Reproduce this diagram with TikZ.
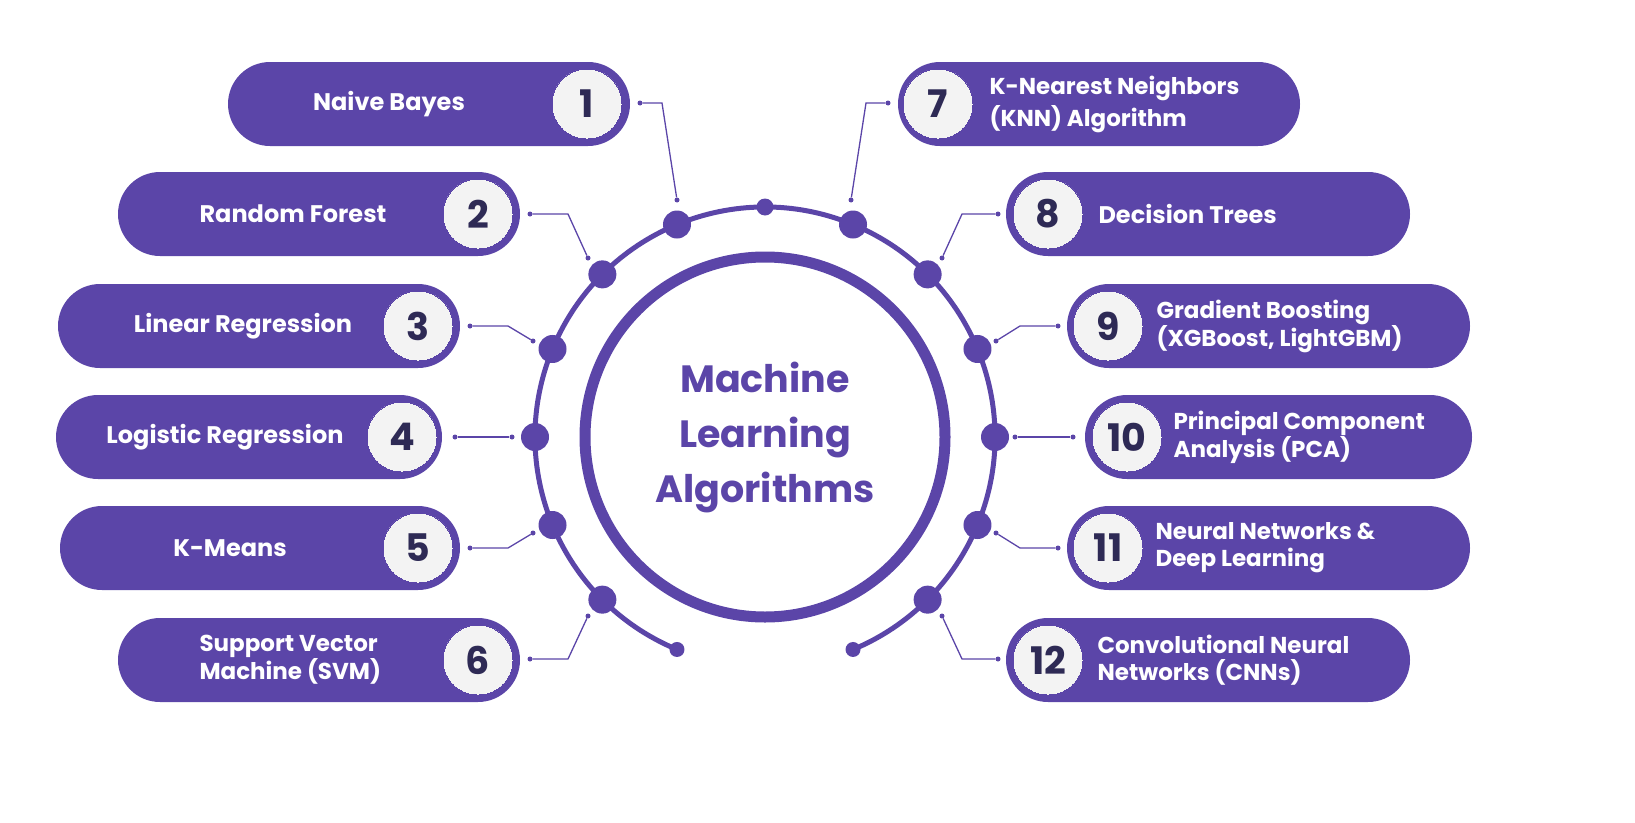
\documentclass[tikz,border=0pt]{standalone}
\usepackage{fontspec}
\setmainfont{Poppins}
\usetikzlibrary{calc}
\definecolor{pur}{HTML}{5B45A8}
\definecolor{cfill}{HTML}{F3F3F3}
\definecolor{num}{HTML}{2E2A55}
\begin{document}
\begin{tikzpicture}[x=1pt,y=-1pt,
  pill/.style={fill=pur,rounded corners=42pt,minimum height=84pt,inner sep=0pt},
  numc/.style={circle,fill=cfill,draw=pur,line width=0pt,minimum size=70pt,inner sep=0pt,font=\fontsize{38}{40}\selectfont\bfseries,text=num},
  lab/.style={text=white,font=\fontsize{24}{26}\selectfont\bfseries,align=left},
  bigdot/.style={circle,fill=pur,minimum size=28pt,inner sep=0pt},
  smalldot/.style={circle,fill=pur,minimum size=5pt,inner sep=0pt},
  conn/.style={pur,line width=1.3pt}]
\coordinate (C) at (765,437);
% central ring
\node[circle,draw=pur,line width=11pt,minimum size=360pt,inner sep=0pt] (ring) at (C) {};
\node[text=pur,font=\fontsize{38}{55}\selectfont\bfseries,align=center] (title) at (C) {Machine\\Learning\\Algorithms};
\draw[pur,line width=5pt] ($(C)+(-247.5:230)$) arc[start angle=-247.5,end angle=67.5,radius=230];
\node[smalldot,minimum size=15pt] (ea) at ($(C)+(-247.5:230)$) {};
\node[smalldot,minimum size=15pt] (eb) at ($(C)+(67.5:230)$) {};
\node[smalldot,minimum size=17pt] (top) at ($(C)+(-90:230)$) {};
% dots on arc
\foreach \i/\a in {1/-112.5,2/-135,3/-157.5,4/-180,5/-202.5,6/-225,7/-67.5,8/-45,9/-22.5,10/0,11/22.5,12/45}
  \node[bigdot] (d\i) at ($(C)+(\a:230)$) {};
% left pills
\foreach \i/\xa/\xb/\y/\cx in {1/228/630/104/587,2/118/520/214/478,3/58/460/326/418,4/56/442/437/402,5/60/460/548/418,6/118/520/660/478}{
  \node[pill,minimum width={\xb-\xa}] (p\i) at ({(\xa+\xb)/2},\y) {};
  \node[numc] (n\i) at (\cx,\y) {\i};
}
% right pills
\foreach \i/\xa/\xb/\y/\cx in {7/898/1300/104/938,8/1006/1410/214/1048,9/1067/1470/326/1108,10/1085/1472/437/1127,11/1067/1470/548/1108,12/1006/1410/660/1048}{
  \node[pill,minimum width={\xb-\xa}] (p\i) at ({(\xa+\xb)/2},\y) {};
  \node[numc] (n\i) at (\cx,\y) {\i};
}
% labels
\node[lab] (l1) at (389,104) {Naive Bayes};
\node[lab] (l2) at (293,214) {Random Forest};
\node[lab] (l3) at (243,326) {Linear Regression};
\node[lab] (l4) at (225,437) {Logistic Regression};
\node[lab] (l5) at (230,548) {K-Means};
\node[lab,anchor=west,font=\fontsize{23}{28}\selectfont\bfseries] (l6) at (196,660) {Support Vector\\Machine (SVM)};
\node[lab,anchor=west,font=\fontsize{23}{32}\selectfont\bfseries] (l7) at (986,104) {K-Nearest Neighbors\\(KNN) Algorithm};
\node[lab,anchor=west] (l8) at (1095,214) {Decision Trees};
\node[lab,anchor=west,font=\fontsize{23}{28}\selectfont\bfseries] (l9) at (1153,326) {Gradient Boosting\\(XGBoost, LightGBM)};
\node[lab,anchor=west,font=\fontsize{23}{27}\selectfont\bfseries] (l10) at (1170,437) {Principal Component\\Analysis (PCA)};
\node[lab,anchor=west,font=\fontsize{23}{27}\selectfont\bfseries] (l11) at (1152,548) {Neural Networks \&\\Deep Learning};
\node[lab,anchor=west,font=\fontsize{23}{27}\selectfont\bfseries] (l12) at (1094,660) {Convolutional Neural\\Networks (CNNs)};
% connector endpoints
\foreach \i/\x/\y in {1/640/103,2/530/214,3/470/326,4/455/437,5/470/548,6/530/659,7/888/103,8/998/214,9/1058/326,10/1015/437,11/1058/548,12/998/659}
  \node[smalldot] (s\i) at (\x,\y) {};
\foreach \i/\x/\y in {1/677/200,2/588/258,3/533/341,4/512/437,5/533/533,6/588/616,7/851/200,8/942/258,9/996/341,10/1073/437,11/996/533,12/942/616}
  \node[smalldot] (t\i) at (\x,\y) {};
\draw[conn] (s1) -- (662,103) -- (t1);
\draw[conn] (s2) -- (568,214) -- (t2);
\draw[conn] (s3) -- (508,326) -- (t3);
\draw[conn] (s4) -- (t4);
\draw[conn] (s5) -- (508,548) -- (t5);
\draw[conn] (s6) -- (568,659) -- (t6);
\draw[conn] (s7) -- (866,103) -- (t7);
\draw[conn] (s8) -- (962,214) -- (t8);
\draw[conn] (s9) -- (1020,326) -- (t9);
\draw[conn] (s10) -- (t10);
\draw[conn] (s11) -- (1020,548) -- (t11);
\draw[conn] (s12) -- (962,659) -- (t12);
\pgfresetboundingbox
\path[use as bounding box] (0,0) rectangle (1635,822);
\end{tikzpicture}
\end{document}
